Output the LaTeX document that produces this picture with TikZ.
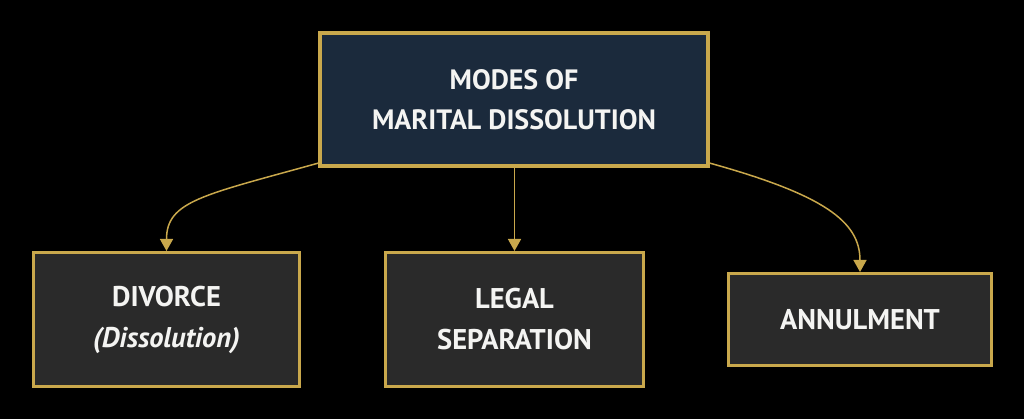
\documentclass[tikz,border=0pt]{standalone}
\usepackage{fontspec}
\setmainfont{PT Sans}
\usetikzlibrary{arrows.meta}

\definecolor{gold}{HTML}{C9A84C}
\definecolor{navy}{HTML}{1B2A3C}
\definecolor{panel}{HTML}{2A2A2A}
\definecolor{ink}{HTML}{F4F4F2}

\tikzset{
  headbox/.style={draw=gold, line width=4pt, fill=navy, text=ink, align=center,
    font=\fontsize{28}{40}\selectfont\bfseries, inner sep=0pt},
  modebox/.style={draw=gold, line width=3pt, fill=panel, text=ink, align=center,
    font=\fontsize{28.5}{41}\selectfont\bfseries, inner sep=0pt},
  link/.style={draw=gold, line width=1.5pt, -{Triangle[length=12pt,width=13pt]}}
}

\begin{document}
\begin{tikzpicture}[x=1pt,y=-1pt]

\fill[black] (0,0) rectangle (1024,419);
\useasboundingbox (0,0) rectangle (1024,419);

\node(modes)[headbox, minimum width=388pt, minimum height=133pt] at (514,99.5)
  {MODES OF\\MARITAL DISSOLUTION};

\node(divorce)[modebox, minimum width=266pt, minimum height=134pt] at (166.5,319.5)
  {DIVORCE\\\textit{(Dissolution)}};
\node(legal)[modebox, minimum width=258pt, minimum height=134pt] at (514.5,319.5)
  {LEGAL\\SEPARATION};
\node(annul)[modebox, minimum width=263pt, minimum height=92pt] at (860,319.5)
  {ANNULMENT};

\draw[link] (modes.198) .. controls +(-115,32) and +(0,-50) .. (divorce.north);
\draw[link] (modes.south -| legal.north) -- (legal.north);
\draw[link] (modes.-18) .. controls +(115,32) and +(0,-50) .. (annul.north);

\end{tikzpicture}
\end{document}
